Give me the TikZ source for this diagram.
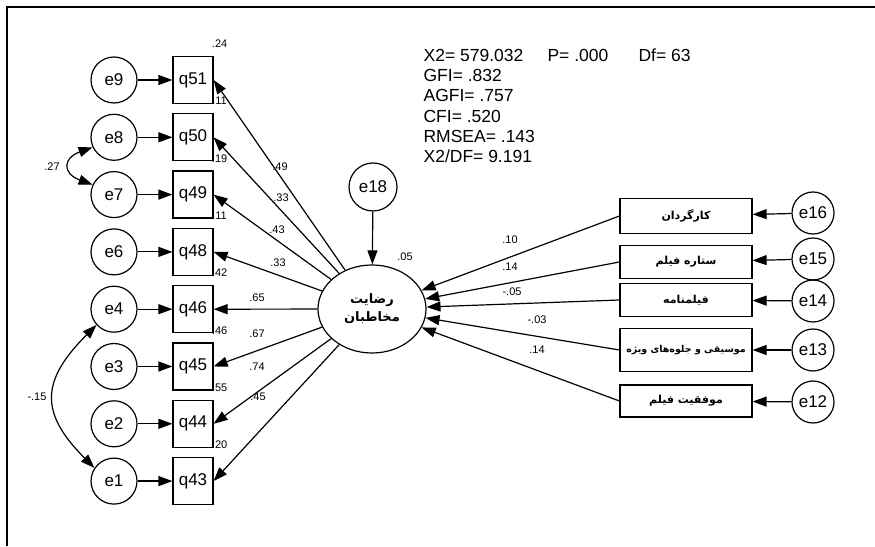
\documentclass[tikz,border=0pt]{standalone}
\usepackage{fontspec}
\setmainfont{Liberation Sans}
\newfontfamily\arabicfont[Script=Arabic]{DejaVu Sans}
\TeXXeTstate=1
\usetikzlibrary{arrows.meta,shapes.geometric}

\begin{document}
\begin{tikzpicture}[x=1pt,y=1pt,line width=1.2pt,
  >={Triangle[length=14pt,width=10pt]},
  err/.style={circle,draw,minimum size=46pt,inner sep=0pt,font=\fontsize{17}{17}\selectfont},
  item/.style={rectangle,draw,minimum width=40pt,minimum height=47pt,inner sep=0pt,font=\fontsize{17}{17}\selectfont},
  fac/.style={rectangle,draw,minimum width=132pt,minimum height=34pt,inner sep=0pt,font=\arabicfont\bfseries\fontsize{11}{11}\selectfont},
  lbl/.style={inner sep=0pt,font=\fontsize{11}{11}\selectfont}]
  \useasboundingbox (0,0) rectangle (875,546);
  \draw[line width=2pt] (7,0) -- (7,539) -- (875,539);

  \foreach \e/\q/\r [count=\i from 0] in {e9/q51/.24,e8/q50/.11,e7/q49/.19,e6/q48/.11,e4/q46/.42,e3/q45/.46,e2/q44/.55,e1/q43/.20} {
    \pgfmathsetmacro\yy{466-57.3*\i}
    \node[err] (\e) at (114,\yy) {\e};
    \node[item] (\q) at (193,\yy) {\q};
    \draw[->] (\e) -- (\q);
    \node[lbl] at ([shift={(6,12)}]\q.north east) {\r};
  }
  \draw[<->] (e8.205) to[out=200,in=160,looseness=2.2] (e7.155);
  \node[lbl] at (52,379) {.27};
  \draw[<->] (e4.222) to[out=225,in=135,looseness=1.4] (e1.146);
  \node[lbl] at (37,149) {-.15};

  \node[ellipse,draw,minimum width=108pt,minimum height=88pt,inner sep=0pt,align=center,
    font=\arabicfont\bfseries\fontsize{13}{18}\selectfont] (sat) at (372,237)
    {\beginR رضایت\endR\\\beginR مخاطبان\endR};
  \node[err,minimum size=48pt] (e18) at (373,359) {e18};
  \draw[->] (e18) -- (sat);
  \node[lbl] at (405,289) {.05};

  \foreach \q/\v/\x/\y in {q51/.49/280/379,q50/.33/281/348,q49/.43/277/316,q48/.33/278/283,q46/.65/257/248,q45/.67/257/212,q44/.74/257/179,q43/.45/258/149} {
    \draw[->] (sat) -- (\q.east);
    \node[lbl] at (\x,\y) {\v};
  }

  \foreach \b/\e/\yb/\ye/\h/\t/\lx/\ly/\v in {
      f16/e16/330/333/35/کارگردان/510/306/.10,
      f15/e15/284/287/33/ستاره فیلم/510/279/.14,
      f14/e14/246/245/33/فیلمنامه/512/254/-.05,
      f13/e13/196/196/43/{\fontsize{9.5}{10}\selectfont موسیقی و جلوه‌های ویژه}/537/226/-.03,
      f12/e12/145/144/32/موفقیت فیلم/537/196/.14} {
    \node[fac,minimum height=\h pt] (\b) at (686,\yb) {\beginR\t\endR};
    \node[err,minimum size=42pt] (\e) at (813,\ye) {\e};
    \draw[->] (\e) -- (\b);
    \draw[->] (\b.west) -- (sat);
    \node[lbl] at (\lx,\ly) {\v};
  }

  \node[anchor=north west,align=left,inner sep=0pt,font=\fontsize{17.5}{20.3}\selectfont] (fit) at (423,498)
    {\makebox[124pt][l]{X2= 579.032}\makebox[91pt][l]{P= .000}Df= 63\\GFI= .832\\AGFI= .757\\CFI= .520\\RMSEA= .143\\X2/DF= 9.191};
\end{tikzpicture}
\end{document}
